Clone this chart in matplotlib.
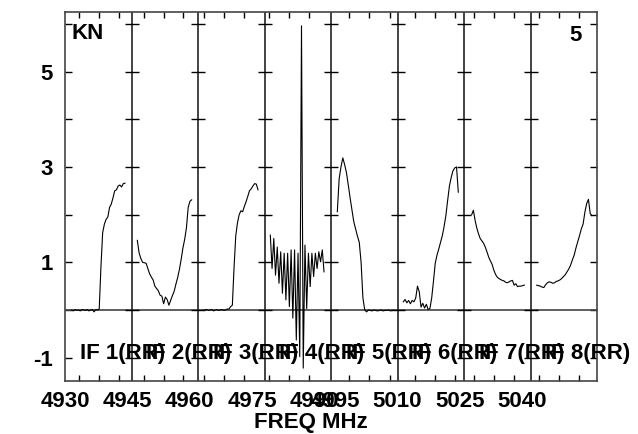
import numpy as np
import matplotlib
matplotlib.use("Agg")
import matplotlib.pyplot as plt

# IF edges (MHz) and the channel span plotted inside each IF box
if_edges = [4930, 4946, 4962, 4978, 4994, 5010, 5026, 5042, 5058]
chan_lo = [4931.61, 4947.40, 4963.68, 4979.40, 4995.52, 5011.39, 5027.85, 5043.49]
chan_hi = [4944.44, 4960.48, 4976.44, 4992.32, 5009.16, 5024.63, 5040.51, 5056.80]
if_labels = ["IF 1(RR)", "IF 2(RR)", "IF 3(RR)", "IF 4(RR)",
             "IF 5(RR)", "IF 6(RR)", "IF 7(RR)", "IF 8(RR)"]

# amplitude per channel, 32 channels per IF
if1 = [0.0, -0.02, 0.01, -0.01, 0.0, -0.02, 0.01, 0.0, -0.01, 0.01, -0.02, 0.0,
       0.01, -0.04, 0.01, 0.0, 0.02, 0.9, 1.62, 1.8, 1.9, 1.95, 2.15, 2.22,
       2.35, 2.5, 2.52, 2.6, 2.62, 2.58, 2.65, 2.66]
if2 = [1.46, 1.20, 1.08, 1.00, 0.99, 0.98, 0.87, 0.76, 0.69, 0.63, 0.50, 0.45,
       0.40, 0.31, 0.29, 0.13, 0.27, 0.22, 0.10, 0.20, 0.30, 0.39, 0.54, 0.68,
       0.85, 1.06, 1.30, 1.48, 1.72, 2.15, 2.28, 2.31]
if3 = [0.0, 0.01, -0.01, 0.0, 0.01, -0.02, 0.0, 0.01, -0.01, 0.0, 0.01, -0.01,
       0.0, 0.02, 0.02, 0.07, 0.1, 0.9, 1.56, 1.83, 2.0, 2.08, 2.06, 2.17,
       2.27, 2.38, 2.5, 2.54, 2.6, 2.65, 2.64, 2.52]
if4 = [1.57, 0.87, 1.50, 0.73, 1.32, 0.56, 1.22, 0.35, 1.19, 0.21, 1.19, 0.07,
       1.26, -0.17, 1.26, -0.63, 1.19, -0.98, 5.96, -1.22, 1.36, 0.03, 1.19, 0.49,
       1.19, 0.70, 1.19, 0.87, 1.22, 1.01, 1.26, 0.80]
if5 = [2.06, 2.75, 3.0, 3.19, 3.05, 2.88, 2.62, 2.35, 2.1, 1.85, 1.7, 1.55,
       1.42, 1.0, 0.25, 0.0, -0.04, 0.0, -0.01, -0.02, 0.0, -0.01, -0.02, -0.01,
       0.0, -0.02, -0.01, -0.01, 0.0, -0.02, -0.01, -0.01]
if6 = [0.17, 0.22, 0.15, 0.20, 0.13, 0.20, 0.17, 0.25, 0.50, 0.38, 0.06, 0.14,
       0.04, 0.12, 0.01, 0.03, 0.25, 0.60, 0.98, 1.15, 1.28, 1.42, 1.56, 1.75,
       1.98, 2.30, 2.60, 2.78, 2.92, 2.98, 3.00, 2.47]
if7 = [2.00, 2.09, 1.88, 1.72, 1.60, 1.50, 1.45, 1.40, 1.32, 1.22, 1.11, 1.03,
       0.96, 0.84, 0.75, 0.69, 0.66, 0.64, 0.62, 0.61, 0.58, 0.57, 0.59, 0.61,
       0.62, 0.52, 0.55, 0.49, 0.50, 0.50, 0.51, 0.52]
if8 = [0.52, 0.51, 0.50, 0.48, 0.47, 0.53, 0.57, 0.59, 0.58, 0.56, 0.57, 0.60,
       0.61, 0.63, 0.66, 0.70, 0.74, 0.80, 0.86, 0.94, 1.05, 1.15, 1.30, 1.43,
       1.56, 1.70, 1.80, 2.05, 2.23, 2.32, 2.02, 1.98]
spectra = [if1, if2, if3, if4, if5, if6, if7, if8]

freq_labels = [4930, 4945, 4960, 4975, 4990, 4995, 5010, 5025, 5040]
minor_ticks = [4933.37, 4938.18, 4942.99, 4948.89, 4953.70, 4958.51,
               4963.44, 4968.26, 4973.07, 4979.08, 4983.89, 4988.71,
               4998.45, 5003.26, 5008.08, 5014.21, 5019.02, 5023.83,
               5028.41, 5033.22, 5038.03, 5044.05, 5048.86, 5053.67]
ytick_vals = [-1, 0, 1, 2, 3, 4, 5, 6]

plt.rcParams["font.family"] = ["Liberation Sans", "DejaVu Sans"]
plt.rcParams["font.weight"] = "bold"

fig = plt.figure(figsize=(6.38, 4.34), dpi=100)
ax = fig.add_axes([65 / 638, 53 / 434, 532 / 638, 369 / 434])

for lo, hi, vals in zip(chan_lo, chan_hi, spectra):
    x = np.linspace(lo, hi, len(vals))
    ax.plot(x, vals, color="black", lw=0.8, zorder=3)

ax.axhline(0, color="#444444", lw=1.2, zorder=2)
for e in if_edges[1:-1]:
    ax.axvline(e, color="#222222", lw=1.2, zorder=2)
    ax.plot(np.full(len(ytick_vals), e), ytick_vals, ls="none", marker="_",
            ms=10, mew=1.0, color="black", zorder=2)

for e, lab in zip(if_edges[:-1], if_labels):
    ax.text(e + 3.6, -1.03, lab, fontsize=16, fontweight="bold",
            ha="left", va="baseline", clip_on=False, zorder=4)

ax.set_xlim(if_edges[0], if_edges[-1])
ax.set_ylim(-1.49, 6.25)

ax.set_xticks(freq_labels)
ax.set_xticklabels([str(f) for f in freq_labels])
ax.set_xticks(minor_ticks, minor=True)
ax.tick_params(axis="x", which="major", length=0, pad=7, labelsize=16)
ax.tick_params(axis="x", which="minor", direction="in", length=4,
               width=1, top=True, bottom=True)

ax.set_yticks(ytick_vals)
ax.set_yticklabels([str(v) if v % 2 else "" for v in ytick_vals])
ax.tick_params(axis="y", direction="in", length=5, width=1,
               left=True, right=True, pad=8.6, labelsize=16)

for s in ax.spines.values():
    s.set_color("#444444")
    s.set_linewidth(1.2)

ax.text(0.013, 0.970, "KN", transform=ax.transAxes, fontsize=16,
        fontweight="bold", ha="left", va="top")
ax.text(0.972, 0.965, "5", transform=ax.transAxes, fontsize=16,
        fontweight="bold", ha="right", va="top")
ax.text(0.462, -0.127, "FREQ MHz", transform=ax.transAxes, fontsize=16,
        fontweight="bold", ha="center", va="baseline")

fig.savefig("out.png", dpi=100)
